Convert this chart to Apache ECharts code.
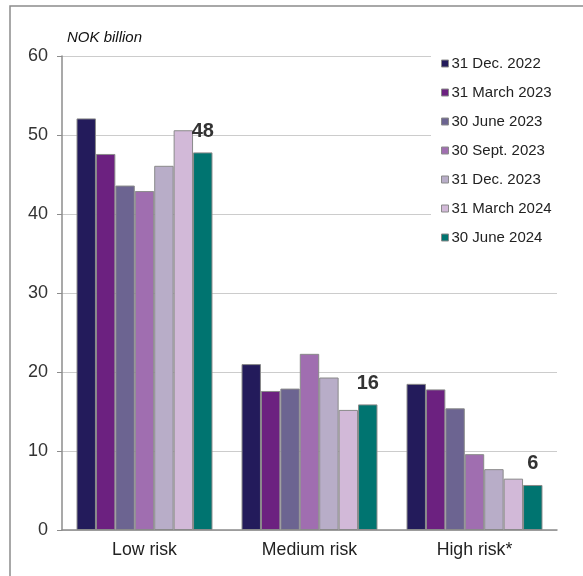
<!DOCTYPE html>
<html>
<head>
<meta charset="utf-8">
<script src="https://cdn.jsdelivr.net/npm/echarts@6/dist/echarts.min.js"></script>
<style>html,body{margin:0;padding:0;background:#fff}#c{width:583px;height:576px}</style>
</head>
<body>
<div id="c"></div>
<script>
const categories = ['Low risk', 'Medium risk', 'High risk*'];
const seriesNames = ['31 Dec. 2022', '31 March 2023', '30 June 2023', '30 Sept. 2023', '31 Dec. 2023', '31 March 2024', '30 June 2024'];
const s_dec22 = [52.1, 21.0, 18.5];
const s_mar23 = [47.6, 17.6, 17.8];
const s_jun23 = [43.6, 17.9, 15.4];
const s_sep23 = [42.9, 22.3, 9.6];
const s_dec23 = [46.1, 19.3, 7.7];
const s_mar24 = [50.6, 15.2, 6.5];
const s_jun24 = [47.8, 15.9, 5.7];
const latestLabels = ['48', '16', '6'];
const yTicks = [0, 10, 20, 30, 40, 50, 60];

const allValues = [s_dec22, s_mar23, s_jun23, s_sep23, s_dec23, s_mar24, s_jun24];
const colors = ['#231B5B', '#6C2180', '#6C6491', '#A06EB0', '#B8ADC8', '#D2B9D8', '#007470'];

const chart = echarts.init(document.getElementById('c'));
const series = allValues.map((vals, i) => ({
  name: seriesNames[i],
  type: 'bar',
  barGap: '0%',
  barCategoryGap: '17.6%',
  itemStyle: { color: colors[i], borderColor: '#8a8a8a', borderWidth: 1 },
  data: vals.map((v, j) => {
    const d = { value: v };
    if (i === allValues.length - 1) {
      d.label = {
        show: true, position: 'top', distance: 11,
        formatter: latestLabels[j], fontSize: 20, fontWeight: 'bold', color: '#333',
        fontFamily: 'Liberation Sans'
      };
    }
    return d;
  })
}));

chart.setOption({
  animation: false,
  textStyle: { fontFamily: 'Liberation Sans' },
  graphic: [
    { type: 'rect', shape: { x: 10, y: 6, width: 600, height: 600 }, style: { fill: 'none', stroke: '#8c8c8c', lineWidth: 1.5 }, silent: true },
    { type: 'text', left: 67, top: 30, style: { text: 'NOK billion', font: 'italic 15px Liberation Sans', fill: '#111' } }
  ],
  legend: {
    orient: 'vertical', left: 431, top: 52, itemGap: 14, itemWidth: 7, itemHeight: 7,
    icon: 'rect', backgroundColor: '#fff', padding: [4, 40, 8, 10],
    textStyle: { fontSize: 15, color: '#222', fontFamily: 'Liberation Sans', padding: [0, 0, 0, -2] },
    itemStyle: { borderColor: '#8a8a8a', borderWidth: 1 },
    data: seriesNames
  },
  grid: { left: 62, right: 26, top: 56, bottom: 46, containLabel: false },
  xAxis: {
    type: 'category', data: categories,
    axisLine: { lineStyle: { color: '#8c8c8c', width: 1.5 } },
    axisTick: { show: false },
    axisLabel: { fontSize: 17.7, color: '#222', margin: 11 }
  },
  yAxis: {
    type: 'value', min: 0, max: 60, interval: 10,
    axisLine: { show: true, lineStyle: { color: '#8c8c8c', width: 1.5 } },
    axisTick: { show: true, length: 5, lineStyle: { color: '#8c8c8c' } },
    axisLabel: { fontSize: 18, color: '#333', margin: 14, formatter: v => yTicks.includes(v) ? String(v) : '' },
    splitLine: { lineStyle: { color: '#cccccc', width: 1 } }
  },
  series: series
});
</script>
</body>
</html>
